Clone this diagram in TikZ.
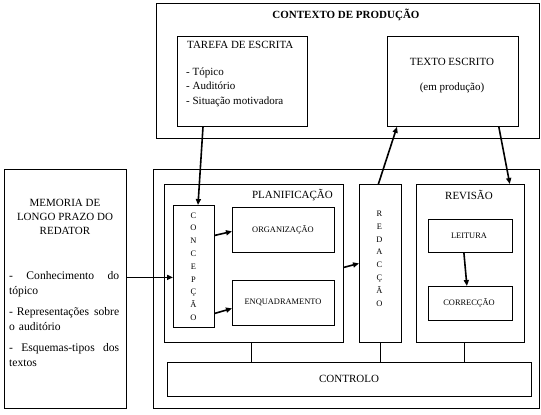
\documentclass[tikz,border=0pt]{standalone}
\usepackage{fontspec}
\setmainfont{Liberation Serif}
\usetikzlibrary{positioning, arrows.meta}
\tikzset{
  box/.style={draw, line width=0.8pt, inner sep=0pt, anchor=north west},
  flow/.style={-{Triangle[length=6pt,width=5pt]}, line width=1.6pt, shorten >=0pt},
  link/.style={line width=0.9pt},
  rotulo/.style={inner sep=0pt, font=\fontsize{11}{13}\selectfont},
  miudo/.style={inner sep=0pt, font=\fontsize{8.4}{10}\selectfont},
  vertical/.style={inner sep=0pt, align=center, font=\fontsize{8.4}{12.8}\selectfont}
}

\begin{document}
\begin{tikzpicture}[x=1pt, y=-1pt]
  \useasboundingbox (0,0) rectangle (541,415);

  % contexto de producao
  \node[box, minimum width=383pt, minimum height=135pt] (contexto) at (156,3) {};
  \node[rotulo, font=\bfseries\fontsize{11}{13}\selectfont] (titulo) at (346,15) {CONTEXTO DE PRODUÇÃO};

  \node[box, minimum width=130pt, minimum height=90pt] (tarefa) at (177,36) {};
  \node[rotulo, anchor=west] (tarefatit) at (187,45) {TAREFA DE ESCRITA};
  \node[rotulo, anchor=west, align=left, font=\fontsize{11}{14.5}\selectfont] (tarefalista) at (186,87)
    {- Tópico\\- Auditório\\- Situação motivadora};

  \node[box, minimum width=131pt, minimum height=90pt] (texto) at (387,36) {};
  \node[rotulo] (textotit) at (452,62) {TEXTO ESCRITO};
  \node[rotulo] (textosub) at (452,88) {(em produção)};

  % memoria de longo prazo
  \node[box, minimum width=122pt, minimum height=239pt] (memoria) at (4,169) {};
  \node[rotulo, align=center, font=\fontsize{11}{14}\selectfont] (memoriatit) at (65,217)
    {MEMORIA DE\\LONGO PRAZO DO\\REDATOR};
  \node[rotulo, anchor=north west, text width=110pt, align=left, font=\fontsize{11.6}{15}\selectfont] (memorialista) at (9,271)
    {-\hfill Conhecimento\hfill do\\tópico\\[6pt]
     - Representações\hfill sobre\\o auditório\\[6pt]
     -\hfill Esquemas-tipos\hfill dos\\textos};

  % processo de escrita
  \node[box, minimum width=386pt, minimum height=239pt] (processo) at (153,169) {};

  \node[box, minimum width=179pt, minimum height=158pt] (planif) at (164,184) {};
  \node[rotulo, anchor=east] (planiftit) at (333,195) {PLANIFICAÇÃO};
  \node[box, minimum width=41pt, minimum height=122pt] (concepcao) at (173,205) {};
  \node[vertical] (concepcaotxt) at (193.5,266.5) {C\\O\\N\\C\\E\\P\\Ç\\Ã\\O};
  \node[box, minimum width=102pt, minimum height=45pt] (organizacao) at (232,207) {};
  \node[miudo] (organizacaotxt) at (283,230) {ORGANIZAÇÃO};
  \node[box, minimum width=102pt, minimum height=45pt] (enquadramento) at (232,280) {};
  \node[miudo] (enquadramentotxt) at (283,302) {ENQUADRAMENTO};

  \node[box, minimum width=42pt, minimum height=158pt] (redaccao) at (359,184) {};
  \node[vertical] (redaccaotxt) at (379.5,258.5) {R\\E\\D\\A\\C\\Ç\\Ã\\O};

  \node[box, minimum width=108pt, minimum height=158pt] (revisao) at (416,184) {};
  \node[rotulo] (revisaotit) at (469,195) {REVISÃO};
  \node[box, minimum width=84pt, minimum height=33pt] (leitura) at (428,219) {};
  \node[miudo] (leituratxt) at (469,236) {LEITURA};
  \node[box, minimum width=84pt, minimum height=34pt] (correccao) at (428,286) {};
  \node[miudo] (correccaotxt) at (469,303) {CORRECÇÃO};

  \node[box, minimum width=364pt, minimum height=34pt] (controlo) at (167,362) {};
  \node[rotulo] (controlotxt) at (349,379) {CONTROLO};

  % ligacoes ao controlo
  \coordinate (planiflink) at ([xshift=-2.5pt]planif.south);
  \coordinate (revisaolink) at ([xshift=-5.5pt]revisao.south);
  \draw[link] (planiflink) -- (planiflink |- controlo.north);
  \draw[link] (redaccao.south) -- (redaccao.south |- controlo.north);
  \draw[link] (revisaolink) -- (revisaolink |- controlo.north);

  % setas
  \draw[flow] ([xshift=26pt]tarefa.south west) -- ([xshift=25pt]concepcao.north west);
  \draw[flow] ([xshift=-2pt]redaccao.north) -- ([xshift=10pt]texto.south west);
  \draw[flow] ([xshift=-20pt]texto.south east) -- ([xshift=-15pt]revisao.north east);
  \draw[flow] ([yshift=11.5pt]memoria.east) -- ([yshift=-11pt]concepcao.west);
  \draw[flow] ([yshift=31pt]concepcao.east) -- ([yshift=-1.5pt]organizacao.west);
  \draw[flow] ([yshift=-47pt]concepcao.east) -- ([yshift=-5.5pt]enquadramento.west);
  \draw[flow] ([yshift=-4pt]planif.east) -- (redaccao.west);
  \draw[flow] ([xshift=-6.5pt]leitura.south) -- ([xshift=-3.5pt]correccao.north);
\end{tikzpicture}
\end{document}
